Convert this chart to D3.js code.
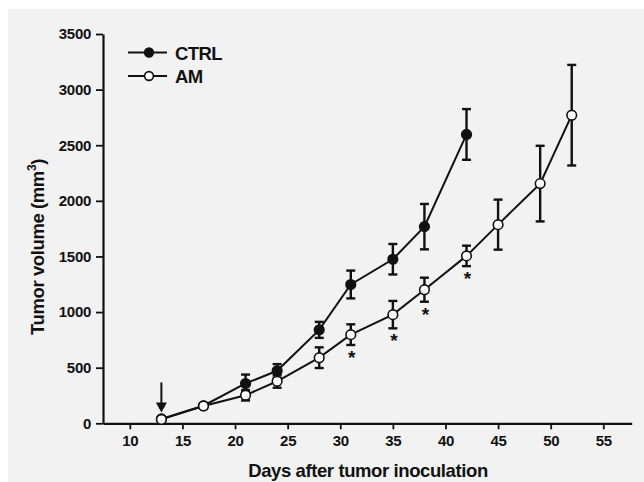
<!DOCTYPE html>
<html>
<head>
<meta charset="utf-8">
<script src="https://cdn.jsdelivr.net/npm/d3@7"></script>
<style>
  body { margin: 0; background: #fff; }
  text { font-family: "Liberation Sans", Arial, sans-serif; font-weight: bold; fill: #111; }
</style>
</head>
<body>
<svg width="644" height="482"></svg>
<script>
// tumor growth: CTRL vs AM, mean +/- error

var ctrlDays = [13, 17, 21, 24, 28, 31, 35, 38, 42];
var ctrlVals = [40, 158, 358, 472, 840, 1248, 1475, 1768, 2597];
var ctrlErr  = [15, 20, 80, 60, 72, 125, 137, 204, 228];

var amDays = [13, 17, 21, 24, 28, 31, 35, 38, 42, 45, 49, 52];
var amVals = [35, 156, 252, 378, 590, 797, 977, 1201, 1505, 1786, 2155, 2770];
var amErr  = [15, 20, 47, 58, 93, 93, 123, 108, 92, 225, 340, 452];

var starDays = [31, 35, 38, 42];
var arrowDay = 13;

var xTicks = [10, 15, 20, 25, 30, 35, 40, 45, 50, 55];
var yTicks = [0, 500, 1000, 1500, 2000, 2500, 3000, 3500];

var svg = d3.select("svg");

// grey panel
svg.append("rect").attr("x", 8).attr("y", 9)
    .attr("width", 636).attr("height", 473).attr("fill", "#f2f2f2");

var x = d3.scaleLinear().domain([7.45, 57.7]).range([103, 631.7]);
var y = d3.scaleLinear().domain([0, 3500]).range([423.3, 34]);

var ink = "#111";

// axes
var xAxis = svg.append("g").attr("transform", "translate(0," + y(0) + ")")
    .call(d3.axisBottom(x).tickValues(xTicks).tickFormat(d3.format("d"))
        .tickSize(6).tickPadding(6).tickSizeOuter(0));
var yAxis = svg.append("g").attr("transform", "translate(" + x.range()[0] + ",0)")
    .call(d3.axisLeft(y).tickValues(yTicks).tickFormat(d3.format("d"))
        .tickSize(7).tickPadding(5).tickSizeOuter(0));

[xAxis, yAxis].forEach(function(a) {
    a.select(".domain").attr("stroke", ink).attr("stroke-width", 2.2);
    a.selectAll(".tick line").attr("stroke", ink).attr("stroke-width", 1.8);
    a.selectAll(".tick text").attr("font-size", 15).attr("fill", ink).attr("letter-spacing", -0.3)
        .style("font-family", "Liberation Sans, Arial, sans-serif").style("font-weight", "bold");
});

// axis titles
svg.append("text").attr("x", 368).attr("y", 477).attr("text-anchor", "middle")
    .attr("font-size", 18.5).attr("letter-spacing", -0.4).text("Days after tumor inoculation");

var yt = svg.append("text").attr("transform", "translate(44,247) rotate(-90)")
    .attr("text-anchor", "middle").attr("font-size", 18.5).attr("letter-spacing", -0.4);
yt.append("tspan").text("Tumor volume (mm");
yt.append("tspan").attr("dy", -8).attr("font-size", 12).text("3");
yt.append("tspan").attr("dy", 8).text(")");

function series(days, vals, errs, filled) {
    var pts = days.map(function(d, i) { return {d: d, v: vals[i], e: errs[i]}; });
    var g = svg.append("g");
    g.append("path").datum(pts)
        .attr("fill", "none").attr("stroke", ink).attr("stroke-width", 2)
        .attr("d", d3.line().x(function(p) { return x(p.d); }).y(function(p) { return y(p.v); }));
    var eb = g.selectAll(".eb").data(pts).enter().append("g")
        .attr("stroke", ink).attr("stroke-width", 2.4);
    eb.append("line")
        .attr("x1", function(p) { return x(p.d); }).attr("x2", function(p) { return x(p.d); })
        .attr("y1", function(p) { return y(p.v + p.e); }).attr("y2", function(p) { return y(p.v - p.e); });
    [1, -1].forEach(function(s) {
        eb.append("line")
            .attr("x1", function(p) { return x(p.d) - 4.5; }).attr("x2", function(p) { return x(p.d) + 4.5; })
            .attr("y1", function(p) { return y(p.v + s * p.e); }).attr("y2", function(p) { return y(p.v + s * p.e); });
    });
    g.selectAll("circle").data(pts).enter().append("circle")
        .attr("cx", function(p) { return x(p.d); }).attr("cy", function(p) { return y(p.v); })
        .attr("r", 4.8).attr("fill", filled ? ink : "#fff")
        .attr("stroke", ink).attr("stroke-width", 1.6);
}

series(ctrlDays, ctrlVals, ctrlErr, true);
series(amDays, amVals, amErr, false);

// significance stars under AM points
svg.selectAll(".star").data(starDays).enter().append("text")
    .attr("x", function(d) { return x(d) + 1; })
    .attr("y", function(d) {
        var i = amDays.indexOf(d);
        return y(amVals[i] - amErr[i]) + 19;
    })
    .attr("text-anchor", "middle").attr("font-size", 19).text("*");

// arrow at treatment start
var ax = x(arrowDay), tip = y(amVals[amDays.indexOf(arrowDay)]) - 7;
svg.append("line").attr("x1", ax).attr("x2", ax).attr("y1", tip - 30).attr("y2", tip - 8)
    .attr("stroke", ink).attr("stroke-width", 2);
svg.append("path")
    .attr("d", "M" + (ax - 5.5) + "," + (tip - 10) + "L" + (ax + 5.5) + "," + (tip - 10) + "L" + ax + "," + tip + "Z")
    .attr("fill", ink);

// legend
var legend = [{name: "CTRL", filled: true, y: 52.5}, {name: "AM", filled: false, y: 76}];
var lg = svg.selectAll(".lg").data(legend).enter().append("g");
lg.append("line").attr("x1", 128).attr("x2", 167)
    .attr("y1", function(d) { return d.y; }).attr("y2", function(d) { return d.y; })
    .attr("stroke", ink).attr("stroke-width", 2);
lg.append("circle").attr("cx", 149).attr("cy", function(d) { return d.y; })
    .attr("r", 4.4).attr("fill", function(d) { return d.filled ? ink : "#fff"; })
    .attr("stroke", ink).attr("stroke-width", 1.6);
lg.append("text").attr("x", 175).attr("y", function(d) { return d.y + 7; })
    .attr("font-size", 18.5).attr("letter-spacing", -0.6).text(function(d) { return d.name; });
</script>
</body>
</html>
